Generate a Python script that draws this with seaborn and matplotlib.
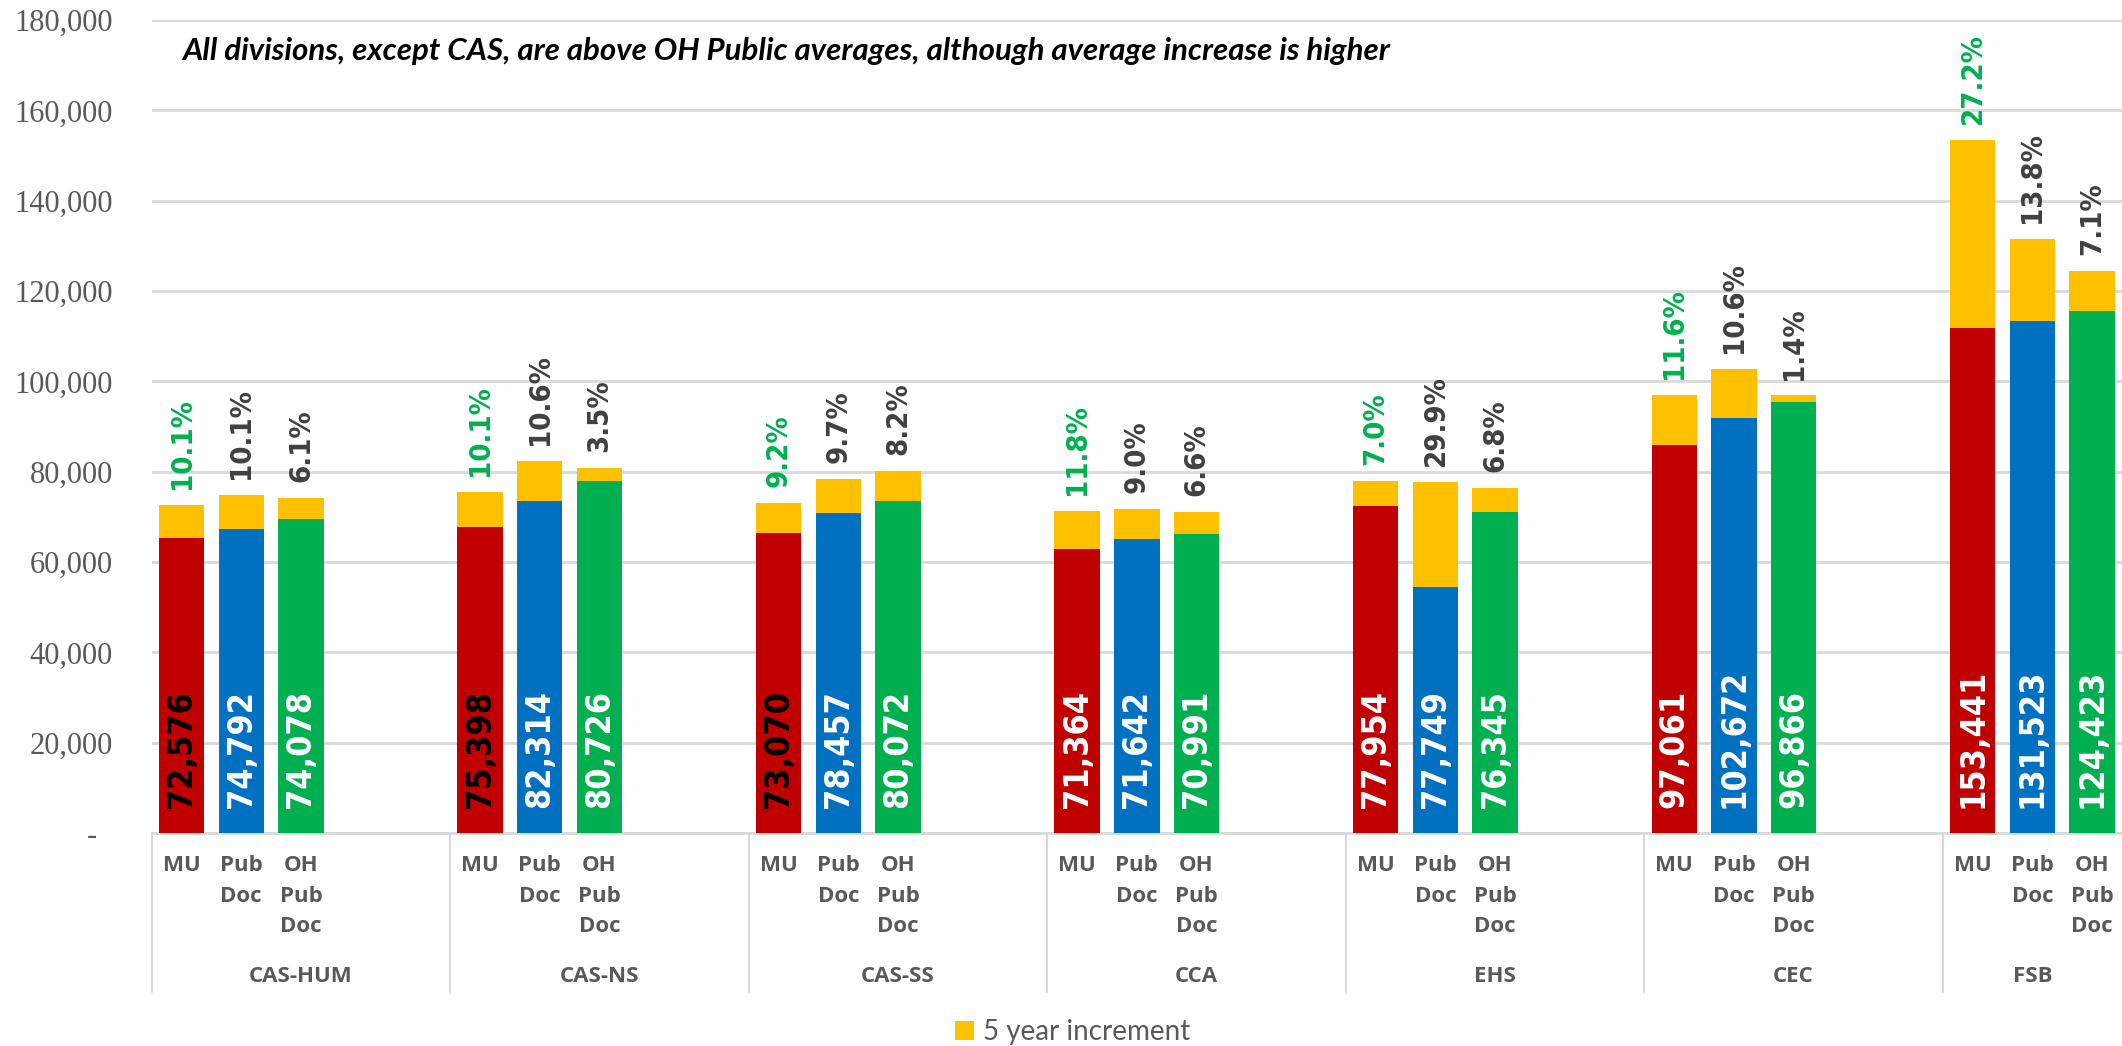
import matplotlib
matplotlib.use("Agg")
import matplotlib.pyplot as plt
from matplotlib.patches import Patch
from matplotlib.font_manager import FontProperties
import pandas as pd
import seaborn as sns

# ---- data ----
groups = ["CAS-HUM", "CAS-NS", "CAS-SS", "CCA", "EHS", "CEC", "FSB"]
series = ["MU", "Pub Doc", "OH Pub Doc"]
sub_labels = ["MU", "Pub\nDoc", "OH\nPub\nDoc"]

mu_total = [72576, 75398, 73070, 71364, 77954, 97061, 153441]
pub_total = [74792, 82314, 78457, 71642, 77749, 102672, 131523]
oh_total = [74078, 80726, 80072, 70991, 76345, 96866, 124423]

# share of the total that is the 5 year increment (%)
mu_pct = [10.1, 10.1, 9.2, 11.8, 7.0, 11.6, 27.2]
pub_pct = [10.1, 10.6, 9.7, 9.0, 29.9, 10.6, 13.8]
oh_pct = [6.1, 3.5, 8.2, 6.6, 6.8, 1.4, 7.1]

y_ticks = [0, 20000, 40000, 60000, 80000, 100000, 120000, 140000, 160000, 180000]
legend_label = "5 year increment"
title_text = ("All divisions, except CAS, are above OH Public averages, "
              "although average increase is higher")

# ---- styling ----
sns.set_style("white")
plt.rcParams["font.family"] = ["DejaVu Sans"]

series_colors = {"MU": "#C00000", "Pub Doc": "#0070C0", "OH Pub Doc": "#00B050"}
increment_color = "#FFC000"
grid_color = "#D9D9D9"
text_gray = "#595959"
pct_colors = {"MU": "#00B050", "Pub Doc": "#404040", "OH Pub Doc": "#404040"}
dark_value_groups = {"CAS-HUM", "CAS-NS", "CAS-SS"}

serif_fp = FontProperties(family=["Liberation Serif", "DejaVu Serif"], size=22)
cat_fp = FontProperties(family="Open Sans", weight="bold", size=16)

SLOTS = 5          # three bars plus two empty slots per division
BAR_W = 0.76

rows = []
for gi, g in enumerate(groups):
    totals = (mu_total[gi], pub_total[gi], oh_total[gi])
    pcts = (mu_pct[gi], pub_pct[gi], oh_pct[gi])
    for si, s in enumerate(series):
        rows.append({
            "pos": gi * SLOTS + si,
            "group": g,
            "series": s,
            "total": totals[si],
            "pct": pcts[si],
            "base": totals[si] * (1 - pcts[si] / 100.0),
        })
df = pd.DataFrame(rows)

W, H = 2122, 1046
fig = plt.figure(figsize=(W / 100, H / 100), dpi=100)
ax_left, ax_bottom, ax_top = 151.7, 833.0, 20.0
ax = fig.add_axes([ax_left / W, 1 - ax_bottom / H, 1 - ax_left / W, (ax_bottom - ax_top) / H])

# totals in yellow, base salary drawn over them
sns.barplot(data=df, x="pos", y="total", native_scale=True, color=increment_color,
            saturation=1, width=BAR_W, linewidth=0, errorbar=None, ax=ax, zorder=2)
sns.barplot(data=df, x="pos", y="base", hue="series", palette=series_colors,
            native_scale=True, saturation=1, width=BAR_W, linewidth=0,
            errorbar=None, dodge=False, legend=False, ax=ax, zorder=3)

x_max = (len(groups) - 1) * SLOTS + 2.5
ax.set_xlim(-0.5, x_max)
ax.set_ylim(0, 180000)

# value labels inside bars and increment percentages above them
for _, r in df.iterrows():
    vcol = "black" if (r["series"] == "MU" and r["group"] in dark_value_groups) else "white"
    ax.annotate(f"{int(r['total']):,}", (r["pos"], 0), xytext=(0, 18),
                textcoords="offset points", rotation=90, ha="center", va="bottom",
                fontsize=24.5, fontweight="bold", fontstretch="condensed",
                color=vcol, zorder=5)
    ax.annotate(f"{r['pct']:.1f}%", (r["pos"], r["total"]), xytext=(0, 11.5),
                textcoords="offset points", rotation=90, ha="center", va="bottom",
                fontsize=21, fontweight="bold", fontstretch="condensed",
                color=pct_colors[r["series"]], zorder=5)

# y axis
ax.set_yticks(y_ticks)
ax.set_yticklabels(["-  " if v == 0 else f"{v:,}" for v in y_ticks])
for lbl in ax.get_yticklabels():
    lbl.set_fontproperties(serif_fp)
    lbl.set_color(text_gray)
ax.tick_params(axis="y", length=0, pad=28)
ax.yaxis.grid(True, color=grid_color, linewidth=2)
ax.set_axisbelow(True)
ax.set_ylabel("")

# x axis: sub-category labels
ax.set_xticks(df["pos"].tolist())
ax.set_xticklabels([sub_labels[series.index(s)] for s in df["series"]])
for lbl in ax.get_xticklabels():
    lbl.set_fontproperties(cat_fp)
    lbl.set_color(text_gray)
    lbl.set_linespacing(1.6)
ax.tick_params(axis="x", length=0, pad=16)
ax.set_xlabel("")

for side in ("left", "top", "right"):
    ax.spines[side].set_visible(False)
ax.spines["bottom"].set_color(grid_color)
ax.spines["bottom"].set_linewidth(2)

# division labels and separators under the axis
ax_h = ax_bottom - ax_top
sep_bottom = -(992 - ax_bottom) / ax_h
label_y = -(977 - ax_bottom) / ax_h
xtrans = ax.get_xaxis_transform()
for gi, g in enumerate(groups):
    start = gi * SLOTS - 0.5
    end = min(start + SLOTS, x_max)
    ax.plot([start, start], [0, sep_bottom], transform=xtrans, color=grid_color,
            linewidth=1.5, clip_on=False, zorder=1)
    ax.text((start + end) / 2, label_y, g, transform=xtrans, ha="center", va="center",
            fontproperties=cat_fp, color=text_gray)

# annotation line at top
fig.text(182 / W, 1 - 51 / H, title_text, ha="left", va="center",
         fontfamily="Lato", fontweight="bold", fontstyle="italic", fontsize=22.5,
         color="black")

# legend
fig.legend(handles=[Patch(facecolor=increment_color, edgecolor="none")],
           labels=[legend_label], loc="center",
           bbox_to_anchor=(1073 / W, 1 - 1032 / H), frameon=False,
           prop={"family": "Lato", "size": 20}, labelcolor=text_gray,
           handlelength=0.65, handleheight=0.65, handletextpad=0.35)

fig.savefig("out.png", dpi=100)
